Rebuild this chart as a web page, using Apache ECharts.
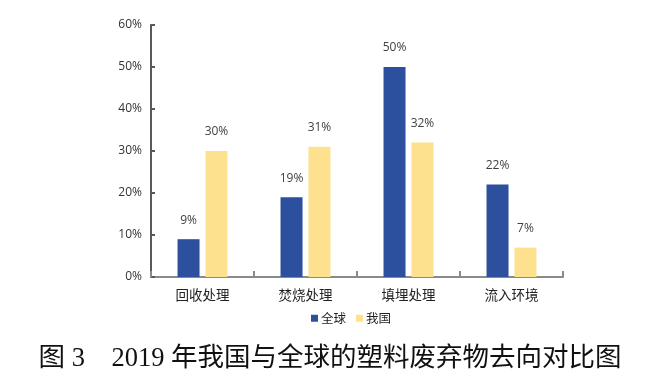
<!DOCTYPE html>
<html><head><meta charset="utf-8">
<script src="https://cdn.jsdelivr.net/npm/echarts@6/dist/echarts.min.js"></script>
<style>html,body{margin:0;padding:0;background:#fff}#c{width:660px;height:388px}</style>
</head><body><div id="c"></div>
<script>
const categories = ['回收处理', '焚烧处理', '填埋处理', '流入环境'];
const seriesNames = ['全球', '我国'];
const globalValues = [9, 19, 50, 22];
const chinaValues = [30, 31, 32, 7];
const yTicks = [0, 10, 20, 30, 40, 50, 60];
const titleText = '图 3    2019 年我国与全球的塑料废弃物去向对比图';

const chart = echarts.init(document.getElementById('c'));
const labelStyle = {show: true, position: 'top', distance: 13, formatter: '{c}%', color: '#404040', fontSize: 12, fontFamily: '"Open Sans", "Noto Sans", sans-serif'};
chart.setOption({
  animation: false,
  title: {text: titleText, left: 'center', top: 341,
    textStyle: {fontFamily: '"Liberation Serif", "Noto Sans CJK SC", serif', fontSize: 26.5, fontWeight: 'normal', color: '#111'}},
  legend: {data: seriesNames, top: 307, left: 306, itemWidth: 7, itemHeight: 7, itemGap: 10,
    icon: 'rect', textStyle: {fontSize: 12.5, color: '#222', fontFamily: '"Noto Sans CJK SC", sans-serif', padding: [0,0,0,-2]}},
  grid: {left: 151, right: 97, top: 25, bottom: 111},
  xAxis: {type: 'category', data: categories,
    axisLine: {lineStyle: {color: '#8a8a8a', width: 2}},
    axisTick: {show: true, inside: true, length: 6, lineStyle: {color: '#8a8a8a', width: 2}},
    axisLabel: {fontSize: 13.5, color: '#222', margin: 11, fontFamily: '"Noto Sans CJK SC", sans-serif'}},
  yAxis: {type: 'value', min: yTicks[0], max: yTicks[yTicks.length-1], interval: 10,
    splitLine: {show: false},
    axisLine: {show: true, lineStyle: {color: '#595959', width: 2}},
    axisTick: {show: true, inside: true, length: 4, lineStyle: {color: '#595959', width: 2}},
    axisLabel: {formatter: '{value}%', fontSize: 12, color: '#333', margin: 9, fontFamily: '"Open Sans", "Noto Sans", sans-serif'}},
  series: [
    {name: seriesNames[0], type: 'bar', data: globalValues, barWidth: 22, barGap: '27%',
     itemStyle: {color: '#2c4f9e'}, label: labelStyle},
    {name: seriesNames[1], type: 'bar', data: chinaValues, barWidth: 22,
     itemStyle: {color: '#fde18e'}, label: labelStyle}
  ]
});
</script></body></html>
